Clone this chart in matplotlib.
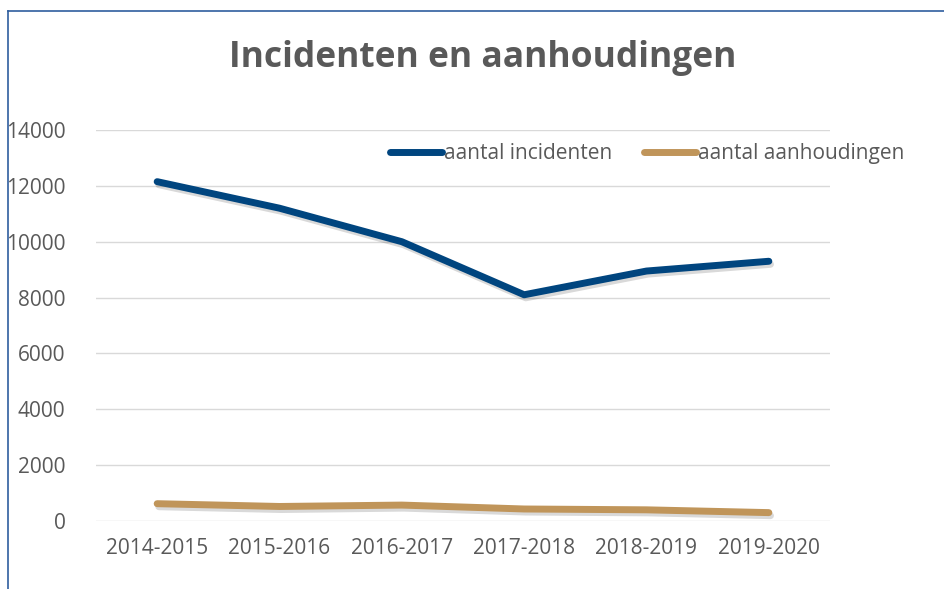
import matplotlib.pyplot as plt
import matplotlib.patheffects as pe
from matplotlib.lines import Line2D

seasons = ["2014-2015", "2015-2016", "2016-2017", "2017-2018", "2018-2019", "2019-2020"]
incidenten = [12150, 11200, 10000, 8100, 8950, 9300]
aanhoudingen = [620, 520, 570, 430, 400, 300]
labels = ["aantal incidenten", "aantal aanhoudingen"]

BLUE = "#00457F"
GOLD = "#C0955A"
GREY = "#595959"

plt.rcParams['font.family'] = ['Open Sans', 'DejaVu Sans']

fig = plt.figure(figsize=(9.44, 5.89), dpi=100)
ax = fig.add_axes([96 / 944, 1 - 521 / 589, 734 / 944, 391 / 589])

shadow = [pe.SimpleLineShadow(offset=(1.2, -2.2), shadow_color="#000000", alpha=0.15), pe.Normal()]
x = range(len(seasons))
ax.plot(x, incidenten, color=BLUE, lw=5, solid_capstyle="round", solid_joinstyle="round",
        path_effects=shadow, zorder=3)
ax.plot(x, aanhoudingen, color=GOLD, lw=5, solid_capstyle="round", solid_joinstyle="round",
        path_effects=shadow, zorder=3)

ax.set_xlim(-0.5, len(seasons) - 0.5)
ax.set_ylim(0, 14000)
ax.set_yticks(range(0, 14001, 2000))
ax.set_xticks(list(x))
ax.set_xticklabels(seasons)
ax.tick_params(length=0, labelsize=15, labelcolor=GREY)
ax.tick_params(axis="x", pad=12)
ax.tick_params(axis="y", pad=22)
ax.grid(axis="y", color="#D9D9D9", lw=1)
ax.set_axisbelow(True)
for s in ax.spines.values():
    s.set_visible(False)

handles = [Line2D([], [], color=BLUE, lw=5, solid_capstyle="round"),
           Line2D([], [], color=GOLD, lw=5, solid_capstyle="round")]
ax.legend(handles, labels, loc="upper right", bbox_to_anchor=(1.127, 1.015), ncol=2, frameon=False,
          fontsize=15, labelcolor=GREY, handlelength=2.5, handletextpad=0.1, columnspacing=1.5)

fig.text(483 / 944, 1 - 58 / 589, "Incidenten en aanhoudingen", ha="center", va="center",
         fontsize=25.5, fontweight="bold", color=GREY)

# chart frame (cut off at right/bottom)
fig.add_artist(Line2D([8 / 944, 1.0], [1 - 11 / 589, 1 - 11 / 589], color="#2F5E9E", lw=1.2))
fig.add_artist(Line2D([8 / 944, 8 / 944], [0, 1 - 11 / 589], color="#2F5E9E", lw=1.2))

fig.savefig("out.png", dpi=100)
